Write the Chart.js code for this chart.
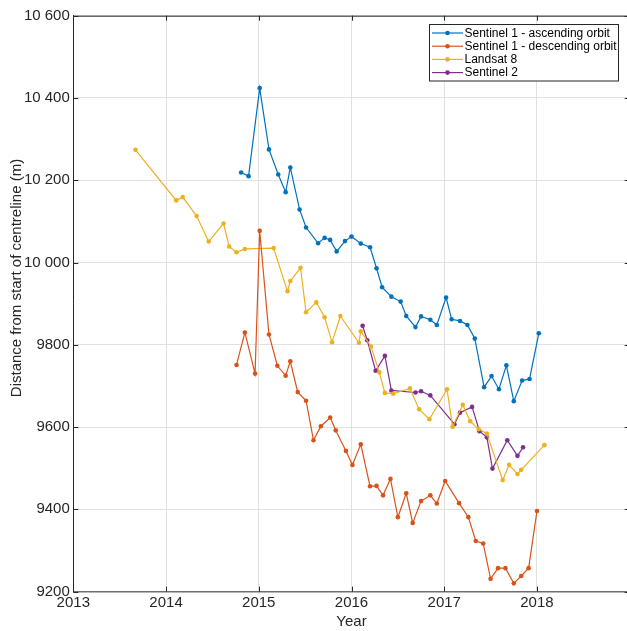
<!DOCTYPE html>
<html>
<head>
<meta charset="utf-8">
<script src="https://cdn.jsdelivr.net/npm/chart.js@4/dist/chart.umd.min.js"></script>
<style>
  html, body { margin: 0; padding: 0; overflow: hidden; background: #fff; }
  #wrap { width: 632px; height: 631px; }
</style>
</head>
<body>
<div id="wrap"><canvas id="c" width="632" height="631"></canvas></div>
<script>
// Position of the glacier front along the centreline, by sensor (decimal years, metres)
const seriesNames = [
  'Sentinel 1 - ascending orbit',
  'Sentinel 1 - descending orbit',
  'Landsat 8',
  'Sentinel 2'
];

const ascYears = [2014.81, 2014.89, 2015.01, 2015.11, 2015.21, 2015.29, 2015.34, 2015.44, 2015.51, 2015.64,
  2015.71, 2015.77, 2015.84, 2015.93, 2016.00, 2016.10, 2016.20, 2016.27, 2016.33, 2016.43,
  2016.53, 2016.59, 2016.69, 2016.75, 2016.85, 2016.92, 2017.02, 2017.08, 2017.17, 2017.25,
  2017.33, 2017.43, 2017.51, 2017.59, 2017.67, 2017.75, 2017.84, 2017.92, 2018.02];
const ascDistance = [10219, 10210, 10424, 10275, 10214, 10171, 10231, 10129, 10085, 10047,
  10060, 10055, 10027, 10052, 10063, 10046, 10037, 9986, 9940, 9917,
  9905, 9870, 9843, 9869, 9861, 9848, 9915, 9862, 9858, 9848,
  9815, 9697, 9724, 9692, 9750, 9663, 9713, 9717, 9828];

const descYears = [2014.76, 2014.85, 2014.96, 2015.01, 2015.11, 2015.20, 2015.29, 2015.34, 2015.42, 2015.51,
  2015.59, 2015.67, 2015.77, 2015.83, 2015.94, 2016.01, 2016.10, 2016.20, 2016.27, 2016.34,
  2016.42, 2016.50, 2016.59, 2016.66, 2016.75, 2016.85, 2016.92, 2017.01, 2017.16, 2017.26,
  2017.34, 2017.42, 2017.50, 2017.58, 2017.66, 2017.75, 2017.83, 2017.91, 2018.00];
const descDistance = [9751, 9830, 9730, 10077, 9825, 9749, 9725, 9760, 9685, 9664,
  9568, 9602, 9623, 9592, 9542, 9508, 9558, 9456, 9457, 9434,
  9474, 9381, 9439, 9367, 9420, 9434, 9414, 9469, 9415, 9381,
  9323, 9317, 9231, 9257, 9257, 9220, 9238, 9257, 9396];

const landsatYears = [2013.67, 2014.11, 2014.18, 2014.33, 2014.46, 2014.62, 2014.68, 2014.76, 2014.85, 2015.16,
  2015.31, 2015.34, 2015.45, 2015.51, 2015.62, 2015.71, 2015.79, 2015.88, 2016.08, 2016.10,
  2016.21, 2016.30, 2016.36, 2016.45, 2016.63, 2016.73, 2016.84, 2017.03, 2017.09, 2017.20,
  2017.28, 2017.37, 2017.46, 2017.63, 2017.70, 2017.79, 2017.83, 2018.08];
const landsatDistance = [10274, 10151, 10159, 10113, 10051, 10095, 10039, 10025, 10033, 10035,
  9930, 9955, 9987, 9879, 9903, 9867, 9806, 9870, 9805, 9833,
  9796, 9733, 9683, 9681, 9694, 9643, 9619, 9692, 9601, 9654,
  9614, 9595, 9584, 9471, 9508, 9486, 9496, 9556];

const s2Years = [2016.12, 2016.17, 2016.26, 2016.36, 2016.43, 2016.69, 2016.75, 2016.85, 2017.11, 2017.17,
  2017.30, 2017.38, 2017.46, 2017.52, 2017.68, 2017.79, 2017.85];
const s2Distance = [9846, 9811, 9737, 9773, 9689, 9684, 9687, 9677, 9607, 9635,
  9649, 9590, 9575, 9499, 9568, 9530, 9551];

const yearTicks = [2013, 2014, 2015, 2016, 2017, 2018];
const distanceTicks = [9200, 9400, 9600, 9800, 10000, 10200, 10400, 10600];
const yTitle = 'Distance from start of centreline (m)';

const colors = ['#0072BD', '#D95319', '#EDB120', '#7E2F8E'];
const FONT = '"Liberation Sans", Arial, Helvetica, sans-serif';
const AXIS_COLOR = '#262626';

function pairs(xs, ys) { return xs.map((x, i) => ({ x: x, y: ys[i] })); }

function fmtDistance(v) {
  if (v >= 10000) {
    return Math.floor(v / 1000) + ' ' + String(v % 1000).padStart(3, '0');
  }
  return String(v);
}

const allSeries = [
  pairs(ascYears, ascDistance),
  pairs(descYears, descDistance),
  pairs(landsatYears, landsatDistance),
  pairs(s2Years, s2Distance)
];

const datasets = allSeries.map((pts, i) => ({
  label: seriesNames[i],
  data: pts,
  borderColor: colors[i],
  backgroundColor: colors[i],
  borderWidth: 1.2,
  pointRadius: 2.3,
  pointBorderWidth: 0,
  pointBackgroundColor: colors[i],
  pointHoverRadius: 2.3,
  tension: 0,
  fill: false
}));

// Box outline on the top and right plus inward-pointing tick marks
const framePlugin = {
  id: 'frame',
  afterDatasetsDraw(chart) {
    const { ctx, chartArea: a, scales } = chart;
    ctx.save();
    ctx.strokeStyle = AXIS_COLOR;
    ctx.lineWidth = 1;
    ctx.beginPath();
    ctx.moveTo(a.left, a.top + 0.5);
    ctx.lineTo(a.right, a.top + 0.5);
    ctx.moveTo(a.right - 0.5, a.top);
    ctx.lineTo(a.right - 0.5, a.bottom);
    const tl = 5;
    distanceTicks.forEach(v => {
      const y = Math.round(scales.y.getPixelForValue(v)) + 0.5;
      ctx.moveTo(a.left, y); ctx.lineTo(a.left + tl, y);
      ctx.moveTo(a.right, y); ctx.lineTo(a.right - tl, y);
    });
    yearTicks.forEach(t => {
      const x = Math.round(scales.x.getPixelForValue(t)) + 0.5;
      ctx.moveTo(x, a.bottom); ctx.lineTo(x, a.bottom - tl);
      ctx.moveTo(x, a.top); ctx.lineTo(x, a.top + tl);
    });
    ctx.stroke();

    // vertical axis title
    ctx.fillStyle = AXIS_COLOR;
    ctx.font = '15px ' + FONT;
    ctx.textAlign = 'center';
    ctx.textBaseline = 'middle';
    ctx.translate(16.7, 278);
    ctx.rotate(-Math.PI / 2);
    ctx.fillText(yTitle, 0, 0);
    ctx.restore();
  }
};

// Boxed legend in the upper right of the plot
const boxLegendPlugin = {
  id: 'boxLegend',
  afterDraw(chart) {
    const { ctx } = chart;
    const bx = 429.5, by = 24.5, bw = 189, bh = 56.5;
    ctx.save();
    ctx.fillStyle = '#ffffff';
    ctx.fillRect(bx, by, bw, bh);
    ctx.strokeStyle = AXIS_COLOR;
    ctx.lineWidth = 1;
    ctx.strokeRect(bx, by, bw, bh);
    ctx.font = '12px ' + FONT;
    ctx.textBaseline = 'middle';
    ctx.textAlign = 'left';
    chart.data.datasets.forEach((ds, i) => {
      const y = 33 + i * 13.2;
      ctx.strokeStyle = ds.borderColor;
      ctx.lineWidth = 1.2;
      ctx.beginPath();
      ctx.moveTo(432, y); ctx.lineTo(463, y);
      ctx.stroke();
      ctx.fillStyle = ds.borderColor;
      ctx.beginPath();
      ctx.arc(447.5, y, 2.3, 0, Math.PI * 2);
      ctx.fill();
      ctx.fillStyle = '#000000';
      ctx.fillText(ds.label, 464.5, y + 0.5);
    });
    ctx.restore();
  }
};

new Chart(document.getElementById('c'), {
  type: 'line',
  data: { datasets: datasets },
  options: {
    responsive: false,
    devicePixelRatio: 1,
    animation: false,
    events: [],
    layout: { padding: { top: 15.7, left: 0, right: 0, bottom: 0 } },
    plugins: {
      legend: { display: false },
      tooltip: { enabled: false }
    },
    scales: {
      x: {
        type: 'linear',
        min: 2013,
        max: 2019,
        afterBuildTicks(scale) {
          scale.ticks = yearTicks.map(v => ({ value: v }));
        },
        afterFit(scale) { scale.height = 39.4; },
        grid: { color: '#e1e1e1', lineWidth: 1, drawTicks: false },
        border: { color: '#6e6e6e', width: 1.5 },
        ticks: {
          padding: 2,
          maxRotation: 0,
          autoSkip: false,
          color: AXIS_COLOR,
          font: { family: FONT, size: 15 },
          callback: v => String(v)
        },
        title: {
          display: true,
          text: 'Year',
          color: AXIS_COLOR,
          font: { family: FONT, size: 15 },
          padding: { top: 0, bottom: 0 }
        }
      },
      y: {
        type: 'linear',
        min: 9200,
        max: 10600,
        afterBuildTicks(scale) {
          scale.ticks = distanceTicks.map(v => ({ value: v }));
        },
        afterFit(scale) { scale.width = 73.3; },
        grid: { color: '#e1e1e1', lineWidth: 1, drawTicks: false },
        border: { color: AXIS_COLOR, width: 1 },
        ticks: {
          padding: 3.5,
          autoSkip: false,
          color: AXIS_COLOR,
          font: { family: FONT, size: 15 },
          callback: v => fmtDistance(v)
        },
        title: { display: false }
      }
    }
  },
  plugins: [framePlugin, boxLegendPlugin]
});
</script>
</body>
</html>
